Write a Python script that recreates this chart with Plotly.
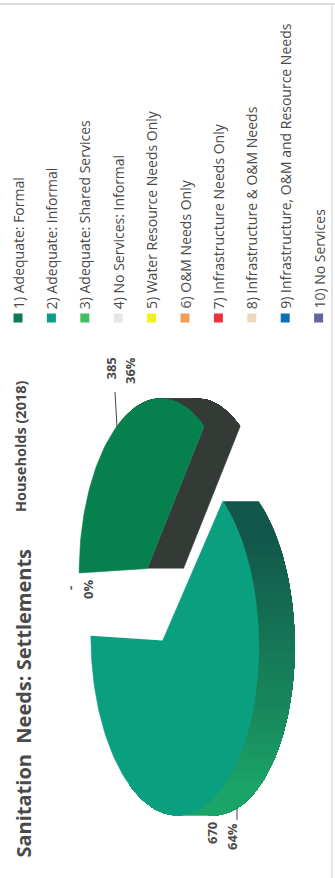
import math
import plotly.graph_objects as go

# Household counts per sanitation class
categories = [
    "1) Adequate: Formal", "2) Adequate: Informal", "3) Adequate: Shared Services",
    "4) No Services: Informal", "5) Water Resource Needs Only", "6) O&M Needs Only",
    "7) Infrastructure Needs Only", "8) Infrastructure & O&M Needs",
    "9) Infrastructure, O&M and Resource Needs", "10) No Services",
]
households = [385, 670, 0, 0, 0, 0, 0, 0, 0, 0]
swatches = ["#0b7a55", "#0b9c8a", "#3fbf5f", "#e4e6ea", "#eef21a",
            "#f59d55", "#e8333c", "#ecd9bf", "#0f6fb8", "#62659c"]

TITLE = "Sanitation  Needs: Settlements"
SUBTITLE = "Households (2018)"
INK = "#4a4a4a"

# The whole chart is laid out turned a quarter turn, so text reads upward
# and the pie's depth runs toward +x.
CX, CY = 155.0, 604.0      # pie centre on the page
R, FLAT = 170.0, 80.0      # horizontal radius and foreshortened radius
PERSP = 0.142              # how much the near rim grows
EXPLODE = 0.232            # slice offset as a fraction of the radius
DEPTH = 36.0               # extrusion of the pie
WALL_LIMIT = 0.45          # rim wall shows only where cos(angle) is below this


def project(u, v, lift=0.0):
    """Disk coordinates (u right, v toward viewer) to page x, y."""
    w = 1 - PERSP * v
    return CX + FLAT * v / w + lift, CY - R * u / w


def mix(a, b, t):
    t = max(0.0, min(1.0, t))
    ca = [int(a[i:i + 2], 16) for i in (1, 3, 5)]
    cb = [int(b[i:i + 2], 16) for i in (1, 3, 5)]
    return "#%02x%02x%02x" % tuple(round(p + (q - p) * t) for p, q in zip(ca, cb))


def polygon(fig, xs, ys, color, edge=0.0):
    fig.add_trace(go.Scatter(x=xs, y=ys, mode="lines", fill="toself", fillcolor=color,
                             line=dict(color=color, width=edge), hoverinfo="skip",
                             showlegend=False))


def draw_slice(fig, start, sweep, top, side, start_face=False):
    mid = math.radians(start + sweep / 2)
    ax, ay = EXPLODE * math.sin(mid), -EXPLODE * math.cos(mid)
    steps = max(2, int(sweep / 2))
    rim = []
    for i in range(steps + 1):
        th = start + sweep * i / steps
        rad = math.radians(th)
        rim.append((th, ax + math.sin(rad), ay - math.cos(rad)))

    # Cut face along the slice's closing radius, visible on the far slice only
    if start_face:
        end = (rim[-1][1], rim[-1][2])
        p0, p1 = project(ax, ay), project(*end)
        q0, q1 = project(ax, ay, DEPTH), project(*end, DEPTH)
        polygon(fig, [p0[0], p1[0], q1[0], q0[0]], [p0[1], p1[1], q1[1], q0[1]], side(start), 0.6)

    # Rim wall, painted from each step to the far end so the colour bands overlap
    wall = [p for p in rim if math.cos(math.radians(p[0])) < WALL_LIMIT]
    for i in range(len(wall) - 1):
        tail = wall[i:]
        near = [project(u, v) for _, u, v in tail]
        far = [project(u, v, DEPTH) for _, u, v in reversed(tail)]
        pts = near + far
        polygon(fig, [p[0] for p in pts], [p[1] for p in pts], side(wall[i][0]))

    pts = [project(ax, ay)] + [project(u, v) for _, u, v in rim]
    polygon(fig, [p[0] for p in pts], [p[1] for p in pts], top, 0.6)


fig = go.Figure()

total = sum(households)
sweeps = [360 * h / total for h in households]
small_end = sweeps[0]

# Dark wall on the formal slice, graded wall on the informal slice
draw_slice(fig, 0, sweeps[0], "#07804f", lambda t: "#343b36", start_face=True)
draw_slice(fig, sweeps[0], sweeps[1], "#0aa07f",
           lambda t: mix("#12574a", "#1ba468", (t - small_end - 15) / 80))

annotations = []


def text(x, y, s, size, color=INK, bold=False, anchor="middle", family="Open Sans"):
    annotations.append(dict(
        x=x, y=y, xref="x", yref="y", text=f"<b>{s}</b>" if bold else s,
        textangle=-90, showarrow=False, xanchor="center",
        yanchor={"middle": "middle", "bottom": "bottom"}[anchor],
        font=dict(size=size, color=color, family=family),
    ))


text(23, 860, TITLE, 20, bold=True, anchor="bottom")
text(20, 514, SUBTITLE, 14.5, bold=True, anchor="bottom")

# Slice labels with their leader lines
pct = [round(100 * h / total) for h in households]
text(110.5, 369, str(households[0]), 13, bold=True)
text(130, 371, f"{pct[0]}%", 13, bold=True)
text(70, 588, "-", 13, bold=True)
text(88, 590, f"{pct[2]}%", 13, bold=True)
text(212, 833, str(households[1]), 13, bold=True)
text(232, 837, f"{pct[1]}%", 13, bold=True)

for xs, ys in [([117, 115], [427, 392]), ([237, 237], [808, 820])]:
    fig.add_trace(go.Scatter(x=xs, y=ys, mode="lines", line=dict(color="#444444", width=1),
                             hoverinfo="skip", showlegend=False))

# Legend column
legend_x = [18 + 33.4 * i for i in range(len(categories))]
fig.add_trace(go.Scatter(x=legend_x, y=[318] * len(categories), mode="markers",
                         marker=dict(symbol="square", size=9, color=swatches),
                         hoverinfo="skip", showlegend=False))
for x, name in zip(legend_x, categories):
    text(x, 311, name, 14, anchor="bottom")

# Scanned page edges
shapes = [
    dict(type="line", x0=0, x1=335, y0=4, y1=4, line=dict(color="#dcdcdc", width=2)),
    dict(type="line", x0=332, x1=332, y0=4, y1=878, line=dict(color="#e6e6e6", width=2)),
]

fig.update_layout(
    width=335, height=878, margin=dict(l=0, r=0, t=0, b=0),
    paper_bgcolor="white", plot_bgcolor="white", showlegend=False,
    xaxis=dict(range=[0, 335], visible=False, fixedrange=True),
    yaxis=dict(range=[878, 0], visible=False, fixedrange=True),
    annotations=annotations, shapes=shapes,
)

fig.write_html("out.html", config={"displayModeBar": False})
